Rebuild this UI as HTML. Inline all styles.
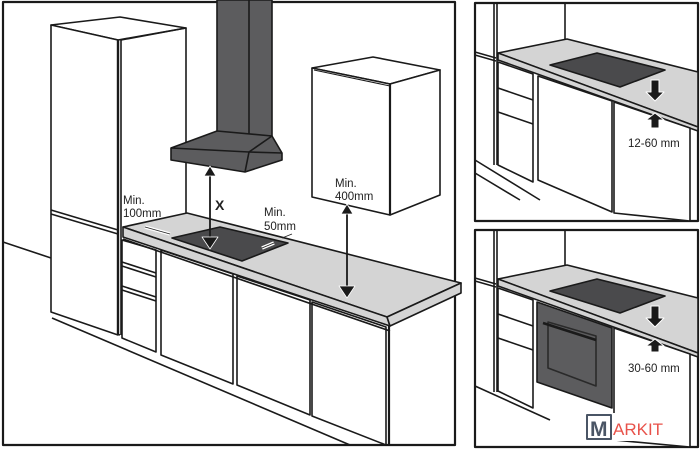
<!DOCTYPE html>
<html><head><style>
html,body{margin:0;padding:0;background:#fff;width:700px;height:451px;overflow:hidden}
svg{display:block}
text{font-family:"Liberation Sans",sans-serif;fill:#222}
</style></head><body>
<svg width="700" height="451" viewBox="0 0 700 451" xmlns="http://www.w3.org/2000/svg" stroke="#1a1a1a" stroke-width="1.6" fill="none" stroke-linejoin="round">
<!-- MAIN PANEL -->
<rect x="3" y="2" width="452" height="443" stroke-width="2.2"/>
<line x1="3" y1="242" x2="51" y2="258"/>
<line x1="52" y1="318" x2="350" y2="445"/>
<line x1="52" y1="312" x2="120" y2="335"/>
<!-- fridge -->
<polygon points="51,25 120,17 186,28 118,40" fill="#fff"/>
<line x1="53" y1="27" x2="118" y2="42" stroke-width="1"/>
<polygon points="51,25 118,40 118,335 51,312" fill="#fff"/>
<line x1="51" y1="210" x2="118" y2="230"/>
<line x1="51" y1="214" x2="118" y2="234"/>
<line x1="118" y1="40" x2="118" y2="335" stroke-width="2.4"/>
<polyline points="121,40 121,335"/>
<polyline points="121,40 186,28 186,213"/>
<!-- wall cabinet -->
<polygon points="312,68 373,57 440,70 390,84" fill="#fff"/>
<polygon points="312,68 390,84 390,215 312,197" fill="#fff"/>
<line x1="314" y1="70" x2="390" y2="86" stroke-width="1"/>
<polygon points="390,84 440,70 440,195 390,215" fill="#fff"/>
<line x1="390" y1="84" x2="390" y2="215" stroke-width="2.2"/>
<!-- hood -->
<rect x="217" y="0" width="55" height="136" fill="#5c5c5e"/>
<line x1="249" y1="0" x2="249" y2="137"/>
<polygon points="217,131 272,136 282,153 282,160 245,172 171,160 171,148" fill="#5c5c5e"/>
<polyline points="171,148 249,152 282,153"/>
<polyline points="272,136 249,152 245,172"/>
<!-- countertop -->
<polygon points="123,227 187,213 461,283 387,317" fill="#d4d4d4"/>
<polygon points="123,227 387,317 390,326 123,237" fill="#d4d4d4"/>
<polygon points="387,317 461,283 461,293 390,326" fill="#d4d4d4"/>
<polygon points="172,238 220,227 288,243 242,261" fill="#4a4a4c"/>
<!-- lower cabinets -->
<polygon points="122,240 156,250 156,352 122,338" fill="#fff"/>
<line x1="122" y1="262" x2="156" y2="273"/><line x1="122" y1="266" x2="156" y2="277"/>
<line x1="122" y1="286" x2="156" y2="297"/><line x1="122" y1="290" x2="156" y2="301"/>
<polygon points="161,250 233,274 233,384 161,355" fill="#fff"/>
<polygon points="237,276 310,300 310,415 237,385" fill="#fff"/>
<polygon points="312,302 386,327 386,445 312,416" fill="#fff"/>
<line x1="389" y1="326" x2="389" y2="445" stroke-width="2.2"/>
<line x1="123" y1="239" x2="390" y2="331"/>
<!-- arrows -->
<g stroke="#1a1a1a" stroke-width="1.8">
<line x1="210" y1="172" x2="210" y2="242"/>
<line x1="347" y1="210" x2="347" y2="292"/>
</g>
<g fill="#1a1a1a" stroke="#fff" stroke-width="0.8">
<polygon points="210,166 204,176 216,176"/>
<polygon points="210,249 202,237 218,237"/>
<polygon points="347,204 341,214 353,214"/>
<polygon points="347,298 339,286 355,286"/>
</g>
<g stroke="#fff" stroke-width="3.5"><line x1="145" y1="227" x2="170" y2="234"/><line x1="262" y1="248" x2="274" y2="243"/></g>
<g stroke="#222" stroke-width="0.9"><line x1="145" y1="227" x2="170" y2="234"/><line x1="262" y1="248" x2="274" y2="243"/><line x1="282" y1="238" x2="292" y2="234"/></g>
<g stroke="none">
<text x="123" y="204" font-size="11.5">Min.</text>
<text x="123" y="217" font-size="11.5">100mm</text>
<text x="215" y="210" font-size="14" font-weight="bold">X</text>
<text x="264" y="216" font-size="11.5">Min.</text>
<text x="264" y="230" font-size="11.5">50mm</text>
<text x="335" y="187" font-size="11.5">Min.</text>
<text x="335" y="200" font-size="11.5">400mm</text>
</g>

<!-- TOP RIGHT PANEL -->
<g>
<rect x="475" y="3" width="223" height="218" stroke-width="2.2"/>
<line x1="494" y1="3" x2="494" y2="165"/><line x1="497" y1="3" x2="497" y2="165"/>
<line x1="565" y1="3" x2="565" y2="40"/>
<line x1="475" y1="52" x2="496" y2="58"/>
<line x1="475" y1="55" x2="496" y2="61"/>
<polygon points="498,53 567,39 698,72 698,127" fill="#d4d4d4"/>
<polygon points="498,53 698,127 698,131 498,60" fill="#d4d4d4"/>
<polygon points="550,65 597,53 665,70 620,87" fill="#4a4a4c"/>
<polygon points="498,62 533,74 533,182 498,165" fill="#fff"/>
<line x1="498" y1="88" x2="533" y2="100"/><line x1="498" y1="112" x2="533" y2="124"/>
<polygon points="538,76 612,101 612,212 538,180" fill="#fff"/>
<polygon points="614,102 690,128 690,221 614,213" fill="#fff"/>
<line x1="475" y1="160" x2="540" y2="200"/>
<line x1="475" y1="173" x2="520" y2="200"/>
<g fill="#1a1a1a" stroke="#fff" stroke-width="1"><polygon points="651,80 659,80 659,92 664,92 655,101 646,92 651,92"/><polygon points="651,128 659,128 659,120 664,120 655,113 646,120 651,120"/></g>
<text x="628" y="147" font-size="11.5" stroke="none">12-60 mm</text>
</g>

<!-- BOTTOM RIGHT PANEL -->
<g>
<rect x="475" y="230" width="223" height="217" stroke-width="2.2"/>
<line x1="494" y1="230" x2="494" y2="392"/><line x1="497" y1="230" x2="497" y2="392"/>
<line x1="565" y1="230" x2="565" y2="266"/>
<line x1="475" y1="278" x2="496" y2="284"/>
<line x1="475" y1="281" x2="496" y2="287"/>
<polygon points="498,279 567,265 698,298 698,353" fill="#d4d4d4"/>
<polygon points="498,279 698,353 698,357 498,286" fill="#d4d4d4"/>
<polygon points="550,291 597,279 665,296 620,313" fill="#4a4a4c"/>
<polygon points="498,288 533,300 533,408 498,391" fill="#fff"/>
<line x1="498" y1="314" x2="533" y2="326"/><line x1="498" y1="338" x2="533" y2="350"/>
<polygon points="537,302 612,328 612,408 537,382" fill="#5c5c5e"/>
<polygon points="548,322 596,336 596,386 548,368" stroke="#2a2a2a"/>
<line x1="543" y1="323" x2="596" y2="340" stroke-width="2.5"/>
<polygon points="614,328 690,354 690,447 614,440" fill="#fff"/>
<line x1="475" y1="386" x2="550" y2="420"/>
<g fill="#1a1a1a" stroke="#fff" stroke-width="1"><polygon points="651,306 659,306 659,318 664,318 655,327 646,318 651,318"/><polygon points="651,352 659,352 659,346 664,346 655,339 646,346 651,346"/></g>
<text x="628" y="372" font-size="11.5" stroke="none">30-60 mm</text>
<rect x="585" y="413" width="80" height="28" fill="#fff" stroke="none"/>
<rect x="587" y="415" width="24" height="24" stroke="#4a5565" stroke-width="2"/>
<text x="590" y="436" font-size="21" font-weight="bold" stroke="none" style="fill:#4a5565">M</text>
<text x="613" y="435" font-size="17" stroke="none" style="fill:#e8524a">ARKIT</text>
</g>
</svg>
</body></html>
